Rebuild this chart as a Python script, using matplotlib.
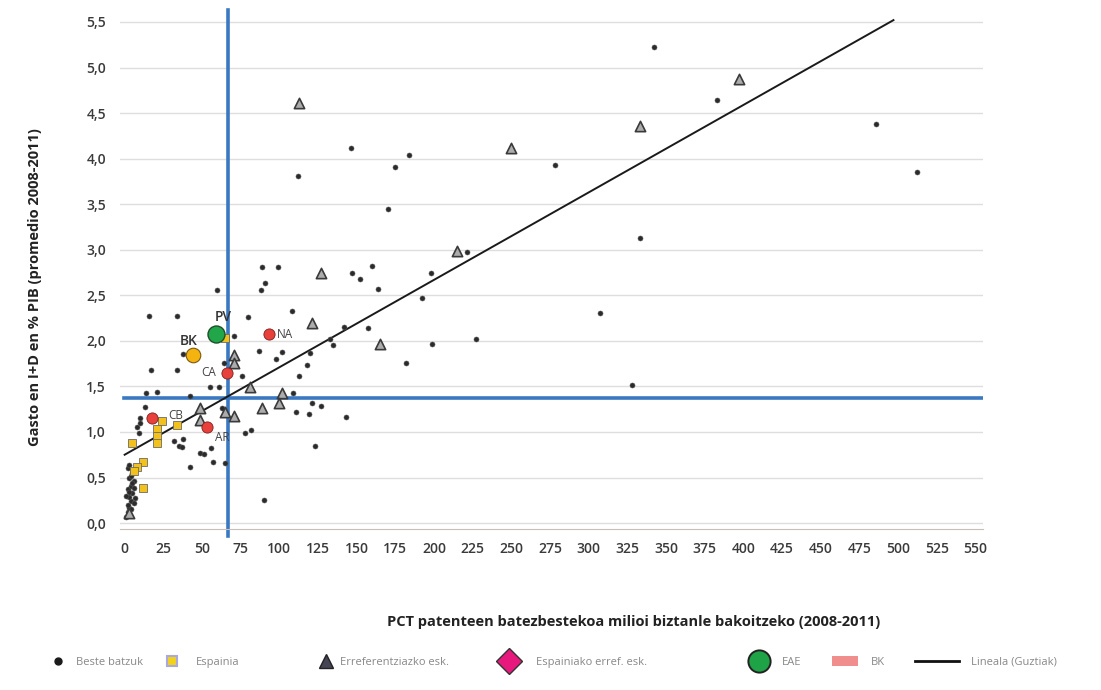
import matplotlib
matplotlib.use("Agg")
import matplotlib.pyplot as plt
from matplotlib.lines import Line2D
from matplotlib.patches import Patch
from matplotlib.ticker import FuncFormatter

plt.rcParams['font.family'] = ['Open Sans', 'DejaVu Sans']

# --- data ---
# other regions (small dots)
beste_x = [342, 383, 486, 512, 112, 146, 175, 184, 170, 278, 333, 221, 307, 227, 199, 192, 198, 182, 328,
           89, 99, 147, 152, 160, 91, 88, 164, 108, 80, 142, 157, 71, 133, 135, 87, 102, 98, 120, 118,
           113, 76, 109, 121, 127, 111, 119, 143, 78, 82, 123, 90,
           60, 16, 34, 38, 17, 34, 64, 55, 61, 14, 21, 42, 13, 10, 8, 9, 10, 32, 35, 38, 37, 49, 51,
           56, 57, 65, 42, 63,
           1, 2, 3, 2, 4, 3, 5, 2, 4, 6, 3, 5, 7, 1, 4, 6, 2, 3, 5, 2, 4, 6, 3]
beste_y = [5.22, 4.64, 4.38, 3.85, 3.81, 4.12, 3.91, 4.04, 3.45, 3.93, 3.13, 2.97, 2.31, 2.02, 1.97, 2.47,
           2.75, 1.76, 1.51,
           2.81, 2.81, 2.74, 2.68, 2.82, 2.64, 2.56, 2.57, 2.33, 2.26, 2.15, 2.14, 2.05, 2.02, 1.95, 1.89,
           1.88, 1.80, 1.87, 1.73, 1.61, 1.61, 1.43, 1.32, 1.28, 1.22, 1.20, 1.16, 0.99, 1.02, 0.85, 0.25,
           2.56, 2.27, 2.27, 1.86, 1.68, 1.68, 1.76, 1.49, 1.49, 1.43, 1.44, 1.40, 1.27, 1.15, 1.05, 0.99,
           1.10, 0.90, 0.85, 0.92, 0.83, 0.77, 0.76, 0.82, 0.67, 0.66, 0.61, 1.26,
           0.07, 0.12, 0.16, 0.20, 0.24, 0.29, 0.33, 0.37, 0.41, 0.46, 0.50, 0.55, 0.28, 0.30, 0.15, 0.38,
           0.60, 0.64, 0.44, 0.09, 0.52, 0.22, 0.34]

# reference regions (triangles)
erref_x = [397, 333, 113, 250, 215, 127, 121, 165, 71, 71, 81, 102, 100, 89, 71, 65, 49, 49, 3]
erref_y = [4.87, 4.36, 4.61, 4.12, 2.99, 2.74, 2.20, 1.96, 1.84, 1.76, 1.49, 1.43, 1.32, 1.26, 1.17,
           1.22, 1.26, 1.13, 0.11]

# Spanish regions (yellow squares)
espainia_x = [65, 24, 21, 21, 21, 5, 34, 12, 8, 6, 12]
espainia_y = [2.03, 1.12, 1.03, 0.96, 0.88, 0.88, 1.08, 0.67, 0.62, 0.57, 0.38]

# Spanish reference regions (red, labelled)
esp_erref_labels = ['CB', 'CA', 'NA', 'AR']
esp_erref_x = [18, 66, 93, 53]
esp_erref_y = [1.15, 1.65, 2.07, 1.05]

eae_x, eae_y = [59], [2.08]
bk_x, bk_y = [44], [1.85]

# linear trend (all regions) and the two average lines
trend_x = [0, 497]
trend_y = [0.75, 5.52]
mean_x = 67
mean_y = 1.37

x_ticks = list(range(0, 551, 25))
y_ticks = [0.0, 0.5, 1.0, 1.5, 2.0, 2.5, 3.0, 3.5, 4.0, 4.5, 5.0, 5.5]

fig = plt.figure(figsize=(11.01, 6.9), dpi=100)
ax = fig.add_axes([0.109, 0.2327, 0.784, 0.7487])

ax.set_xlim(-3, 555)
ax.set_ylim(-0.07, 5.6)

for s in ['top', 'right', 'left']:
    ax.spines[s].set_visible(False)
ax.spines['bottom'].set_color('#c8c0b8')
ax.grid(axis='y', color='#dedede', lw=1)
ax.set_axisbelow(True)

ax.set_xticks(x_ticks)
ax.set_yticks(y_ticks)
ax.yaxis.set_major_formatter(FuncFormatter(lambda v, p: f"{v:.1f}".replace('.', ',')))
ax.tick_params(length=0, labelsize=10, labelcolor='#3a3a3a')
ax.tick_params(axis='y', pad=10)
ax.tick_params(axis='x', pad=9)
for lab in ax.get_xticklabels() + ax.get_yticklabels():
    lab.set_fontweight('semibold')

# average lines
ax.axvline(mean_x, ymin=-0.012, ymax=1.005, color='#3a78c2', lw=2.6, clip_on=False, zorder=2)
ax.axhline(mean_y, xmin=0.005, xmax=1.0, color='#3a78c2', lw=2.6, zorder=2)

ax.plot(trend_x, trend_y, color='#1a1a1a', lw=1.4, zorder=3)

ax.scatter(beste_x, beste_y, s=13, color='#2b2b2b', edgecolor='#555555', lw=0.4, zorder=4)
ax.scatter(erref_x, erref_y, s=55, marker='^', facecolor='#acacac', edgecolor='#3a3a3a', lw=1.2, zorder=5)
ax.scatter(espainia_x, espainia_y, s=30, marker='s', facecolor='#f2c11b', edgecolor='#6b6b6b', lw=0.6, zorder=5)
ax.scatter(esp_erref_x, esp_erref_y, s=65, color='#e8413c', edgecolor='#7a2020', lw=0.6, zorder=6)
ax.scatter(bk_x, bk_y, s=110, color='#f5b30f', edgecolor='#7a5a10', lw=0.8, zorder=6)
ax.scatter(eae_x, eae_y, s=150, color='#22a64a', edgecolor='#1e4f2a', lw=1.0, zorder=7)

# point labels
lab_offsets = {'CB': (11, 2, 'left'), 'CA': (-8, 0, 'right'), 'NA': (6, 0, 'left'), 'AR': (6, -7, 'left')}
for lab, xv, yv in zip(esp_erref_labels, esp_erref_x, esp_erref_y):
    dx, dy, ha = lab_offsets[lab]
    ax.annotate(lab, (xv, yv), xytext=(dx, dy), textcoords='offset points', ha=ha, va='center',
                fontsize=8.5, color='#444444', zorder=8)
ax.annotate('PV', (eae_x[0], eae_y[0]), xytext=(5, 12), textcoords='offset points', ha='center',
            va='center', fontsize=10, fontweight='semibold', color='#333333', zorder=8)
ax.annotate('BK', (bk_x[0], bk_y[0]), xytext=(-3, 10), textcoords='offset points', ha='center',
            va='center', fontsize=10, fontweight='semibold', color='#333333', zorder=8)

ax.set_xlabel('PCT patenteen batezbestekoa milioi biztanle bakoitzeko (2008-2011)', fontsize=10.5,
              fontweight='bold', color='#222222')
ax.xaxis.set_label_coords(0.595, -0.165)
ax.set_ylabel('Gasto en I+D en % PIB (promedio 2008-2011)', fontsize=10.5, fontweight='bold',
              color='#222222')
ax.yaxis.set_label_coords(-0.09, 0.47)

# legend: one entry per legend box so the uneven spacing can be kept
leg_items = [
    (Line2D([], [], ls='none', marker='o', ms=5, color='#1a1a1a'), 'Beste batzuk', 50, 1.4, 0.9),
    (Line2D([], [], ls='none', marker='s', ms=7, mfc='#f2d21b', mec='#a9a9e0', mew=1.5), 'Espainia', 164, 1.4, 1.5),
    (Line2D([], [], ls='none', marker='^', ms=10, mfc='#444455', mec='#222222'), 'Erreferentziazko esk.', 318, 1.4, 0.6),
    (Line2D([], [], ls='none', marker='D', ms=13, mfc='#e8197d', mec='#333333'), 'Espainiako erref. esk.', 500, 1.6, 1.6),
    (Line2D([], [], ls='none', marker='o', ms=16, mfc='#1fa347', mec='#222222', mew=1.4), 'EAE', 750, 1.6, 1.3),
    (Patch(facecolor='#f08e8e', edgecolor='none'), 'BK', 832, 2.3, 1.2),
    (Line2D([], [], color='#111111', lw=2), 'Lineala (Guztiak)', 915, 4.0, 1.0),
]
for handle, text, xpix, hlen, hpad in leg_items:
    fig.legend([handle], [text], loc='center left', bbox_to_anchor=(xpix / 1101, 1 - 662 / 690),
               frameon=False, fontsize=8, labelcolor='#888888', handlelength=hlen, handleheight=1.0,
               handletextpad=hpad, borderpad=0, borderaxespad=0)

plt.savefig('out.png', dpi=100)
